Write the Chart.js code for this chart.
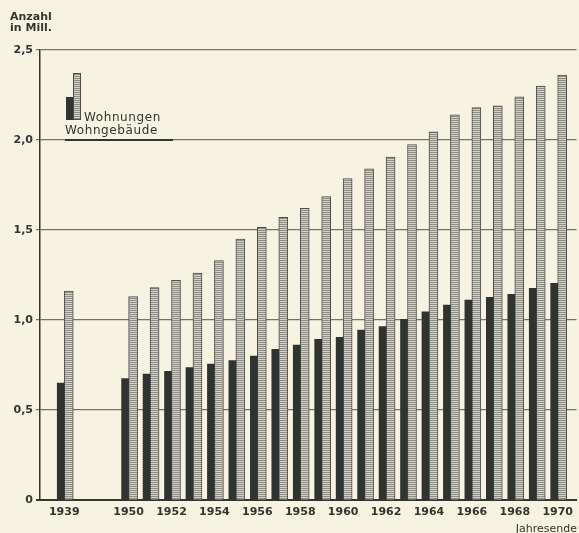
<!DOCTYPE html>
<html><head><meta charset="utf-8">
<script src="https://cdn.jsdelivr.net/npm/chart.js@4"></script>
<style>html,body{margin:0;padding:0;background:#f6f3e3;} canvas{display:block;}</style>
</head><body>
<canvas id="c" width="579" height="533"></canvas>
<script>
const years = ['1939','1950','1951','1952','1953','1954','1955','1956','1957','1958','1959','1960','1961','1962','1963','1964','1965','1966','1967','1968','1969','1970'];
const wohnungen = [1.16, 1.13, 1.18, 1.22, 1.26, 1.33, 1.45, 1.515, 1.57, 1.62, 1.685, 1.785, 1.84, 1.905, 1.975, 2.045, 2.14, 2.18, 2.19, 2.24, 2.30, 2.36];
const wohngebaeude = [0.65, 0.675, 0.70, 0.715, 0.735, 0.755, 0.775, 0.80, 0.837, 0.86, 0.893, 0.904, 0.944, 0.963, 1.004, 1.046, 1.083, 1.11, 1.126, 1.143, 1.176, 1.204];
const tickYears = ['1939','1950','1952','1954','1956','1958','1960','1962','1964','1966','1968','1970'];
const yTicks = [0, 0.5, 1, 1.5, 2, 2.5];
const seriesNames = ['Wohngebäude', 'Wohnungen'];

// slot index on the axis: 1939 followed by a two-slot gap, then 1950..1970
function slotOf(y) { return y === '1939' ? 0 : (+y - 1950) + 3; }

const INK = '#33352f';
const BG = '#f6f3e3';
const DARK = '#2f3430';

function makePattern() {
  const p = document.createElement('canvas');
  p.width = 4; p.height = 2;
  const g = p.getContext('2d');
  g.fillStyle = '#d2d1c8'; g.fillRect(0, 0, 4, 2);
  g.fillStyle = '#8e8e86'; g.fillRect(0, 0, 4, 1);
  return document.getElementById('c').getContext('2d').createPattern(p, 'repeat');
}
const stripe = makePattern();

const extras = {
  id: 'extras',
  beforeDraw(chart) {
    const ctx = chart.ctx;
    ctx.save();
    ctx.fillStyle = BG;
    ctx.fillRect(0, 0, chart.width, chart.height);
    ctx.restore();
  },
  afterDraw(chart) {
    const ctx = chart.ctx;
    ctx.save();
    ctx.fillStyle = INK;
    ctx.font = 'bold 11px "DejaVu Sans"';
    ctx.textBaseline = 'alphabetic';
    ctx.textAlign = 'left';
    ctx.fillText('Anzahl', 10, 20);
    ctx.fillText('in Mill.', 10, 31);
    // legend
    ctx.fillStyle = DARK;
    ctx.fillRect(66, 97, 7, 23);
    ctx.fillStyle = stripe;
    ctx.fillRect(73, 73, 8, 47);
    ctx.strokeStyle = '#4d4d47';
    ctx.lineWidth = 1;
    ctx.strokeRect(73.5, 73.5, 7, 46);
    ctx.fillStyle = INK;
    ctx.font = '12px "DejaVu Sans"';
    ctx.letterSpacing = '0.6px';
    ctx.fillText(seriesNames[1], 84, 121);
    ctx.fillText(seriesNames[0], 65, 134);
    ctx.fillRect(65, 139, 108, 2);
    ctx.letterSpacing = '0px';
    ctx.font = '11px "DejaVu Sans"';
    ctx.textAlign = 'right';
    ctx.fillText('Jahresende', 577, 532);
    // bottom axis stub left of the y axis
    ctx.fillRect(36, chart.chartArea.bottom - 1, 4, 2);
    ctx.restore();
  }
};

new Chart(document.getElementById('c'), {
  type: 'bar',
  data: {
    datasets: [
      {
        label: seriesNames[0],
        data: years.map((y, i) => ({ x: slotOf(y), y: wohngebaeude[i] })),
        backgroundColor: DARK,
        borderWidth: 0,
        barThickness: 7
      },
      {
        label: seriesNames[1],
        data: years.map((y, i) => ({ x: slotOf(y), y: wohnungen[i] })),
        backgroundColor: stripe,
        borderColor: '#4d4d47',
        borderWidth: 1,
        borderSkipped: 'bottom',
        barThickness: 9
      }
    ]
  },
  options: {
    responsive: false,
    animation: false,
    layout: { padding: { top: 50, left: 0, right: 0, bottom: 0 } },
    plugins: { legend: { display: false }, tooltip: { enabled: false } },
    scales: {
      x: {
        type: 'linear',
        min: -1.13,
        max: 23.88,
        offset: false,
        grid: { display: false, drawTicks: false, offset: false },
        border: { display: true, color: INK, width: 2 },
        afterBuildTicks: s => { s.ticks = tickYears.map(y => ({ value: slotOf(y) })); },
        afterFit: s => { s.height = 33; },
        ticks: {
          autoSkip: false,
          maxRotation: 0,
          padding: 6,
          color: INK,
          font: { family: 'DejaVu Sans', weight: 'bold', size: 11 },
          callback: v => { const t = tickYears.find(y => slotOf(y) === v); return t || ''; }
        }
      },
      y: {
        min: 0,
        max: 2.5,
        afterBuildTicks: s => { s.ticks = yTicks.map(v => ({ value: v })); },
        afterFit: s => { s.width = 40; },
        grid: { color: '#74746b', lineWidth: 1.2, drawTicks: true, tickLength: 4 },
        border: { display: true, color: INK, width: 1.5 },
        ticks: {
          padding: 3,
          color: INK,
          font: { family: 'DejaVu Sans', weight: 'bold', size: 11 },
          callback: v => v === 0 ? '0' : v.toFixed(1).replace('.', ',')
        }
      }
    }
  },
  plugins: [extras]
});
</script>
</body></html>
